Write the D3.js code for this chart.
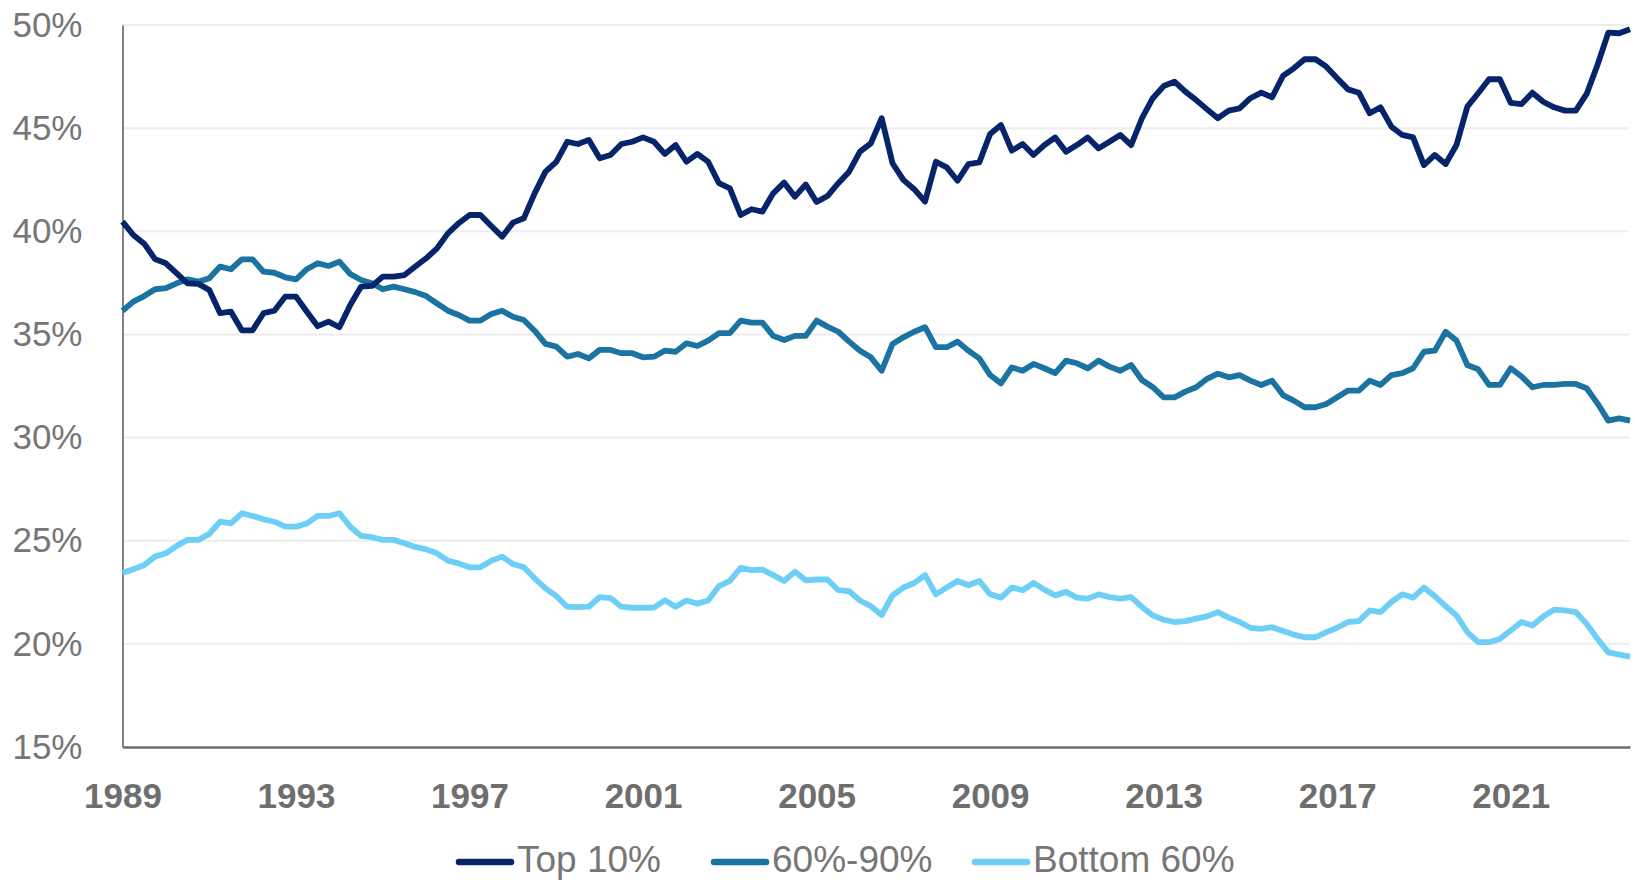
<!DOCTYPE html>
<html>
<head>
<meta charset="utf-8">
<script src="https://cdn.jsdelivr.net/npm/d3@7"></script>
<style>
    html, body { margin: 0; padding: 0; background: #fff; }
    svg text { font-family: "Liberation Sans", Arial, sans-serif; }
</style>
</head>
<body>
<div id="vis"></div>
<script>
// quarterly wealth shares, 1989 Q3 onward
const top10 = [
    40.47, 39.82, 39.4, 38.65, 38.45, 37.96, 37.48, 37.45, 37.15, 36.03,
    36.1, 35.2, 35.2, 36.03, 36.15, 36.83, 36.83, 36.1, 35.4, 35.62,
    35.35, 36.43, 37.32, 37.35, 37.8, 37.8, 37.88, 38.29, 38.69, 39.17,
    39.9, 40.39, 40.79, 40.79, 40.26, 39.74, 40.42, 40.63, 41.84, 42.89,
    43.37, 44.34, 44.23, 44.43, 43.54, 43.7, 44.23, 44.34, 44.55, 44.34,
    43.75, 44.18, 43.37, 43.75, 43.37, 42.33, 42.08, 40.79, 41.07, 40.95,
    41.84, 42.36, 41.68, 42.27, 41.42, 41.71, 42.33, 42.89, 43.86, 44.26,
    45.48, 43.3, 42.49, 42.04, 41.44, 43.37, 43.1, 42.45, 43.26, 43.34,
    44.72, 45.15, 43.91, 44.23, 43.7, 44.18, 44.55, 43.86, 44.18, 44.55,
    44.02, 44.34, 44.67, 44.18, 45.48, 46.45, 47.04, 47.25, 46.77, 46.36,
    45.91, 45.48, 45.85, 45.96, 46.45, 46.72, 46.5, 47.53, 47.9, 48.34,
    48.34, 47.98, 47.42, 46.88, 46.72, 45.72, 46.01, 45.07, 44.67, 44.55,
    43.21, 43.7, 43.26, 44.18, 46.04, 46.69, 47.37, 47.37, 46.23, 46.17,
    46.72, 46.28, 46.01, 45.85, 45.85, 46.66, 48.06, 49.63, 49.6, 49.79
];
const mid60to90 = [
    36.15, 36.59, 36.86, 37.19, 37.24, 37.48, 37.67, 37.56, 37.72, 38.29,
    38.16, 38.64, 38.64, 38.04, 37.99, 37.77, 37.67, 38.16, 38.45, 38.32,
    38.53, 37.93, 37.64, 37.48, 37.19, 37.32, 37.19, 37.05, 36.86, 36.5,
    36.15, 35.94, 35.67, 35.67, 35.99, 36.15, 35.86, 35.7, 35.18, 34.54,
    34.41, 33.92, 34.05, 33.84, 34.25, 34.25, 34.09, 34.09, 33.89, 33.92,
    34.21, 34.16, 34.57, 34.44, 34.7, 35.06, 35.06, 35.67, 35.57, 35.57,
    34.93, 34.73, 34.93, 34.93, 35.67, 35.38, 35.13, 34.65, 34.21, 33.89,
    33.24, 34.54, 34.86, 35.13, 35.35, 34.38, 34.38, 34.65, 34.21, 33.84,
    33.03, 32.63, 33.4, 33.24, 33.57, 33.36, 33.12, 33.73, 33.6, 33.36,
    33.73, 33.44, 33.24, 33.52, 32.79, 32.44, 31.95, 31.95, 32.23, 32.44,
    32.85, 33.1, 32.92, 33.03, 32.76, 32.55, 32.76, 32.06, 31.79, 31.47,
    31.47, 31.63, 31.95, 32.28, 32.28, 32.76, 32.55, 33.03, 33.12, 33.36,
    34.16, 34.21, 35.13, 34.7, 33.52, 33.31, 32.55, 32.55, 33.36, 32.96,
    32.44, 32.55, 32.55, 32.6, 32.6, 32.39, 31.66, 30.82, 30.93, 30.82
];
const bottom60 = [
    23.45, 23.61, 23.82, 24.23, 24.39, 24.75, 25.04, 25.04, 25.33, 25.92,
    25.84, 26.33, 26.2, 26.04, 25.92, 25.68, 25.68, 25.84, 26.2, 26.2,
    26.33, 25.68, 25.23, 25.17, 25.04, 25.04, 24.88, 24.7, 24.58, 24.39,
    24.03, 23.9, 23.71, 23.71, 24.03, 24.23, 23.87, 23.71, 23.18, 22.69,
    22.32, 21.8, 21.78, 21.8, 22.27, 22.22, 21.8, 21.75, 21.75, 21.76,
    22.11, 21.8, 22.1, 21.95, 22.1, 22.8, 23.05, 23.68, 23.57, 23.6,
    23.33, 23.05, 23.5, 23.08, 23.12, 23.12, 22.6, 22.55, 22.1, 21.82,
    21.4, 22.35, 22.73, 22.95, 23.33, 22.4, 22.73, 23.05, 22.84, 23.05,
    22.4, 22.24, 22.73, 22.6, 22.95, 22.63, 22.35, 22.52, 22.24, 22.19,
    22.4, 22.27, 22.19, 22.27, 21.79, 21.38, 21.17, 21.06, 21.1, 21.22,
    21.33, 21.54, 21.27, 21.06, 20.78, 20.73, 20.81, 20.62, 20.45, 20.32,
    20.32, 20.57, 20.78, 21.06, 21.1, 21.62, 21.54, 22.03, 22.4, 22.24,
    22.73, 22.31, 21.82, 21.38, 20.57, 20.08, 20.08, 20.24, 20.65, 21.06,
    20.89, 21.33, 21.66, 21.62, 21.54, 20.97, 20.24, 19.59, 19.48, 19.38
];
const yearTicks = [1989, 1993, 1997, 2001, 2005, 2009, 2013, 2017, 2021];
const yTicks = [15, 20, 25, 30, 35, 40, 45, 50];
const seriesNames = ["Top 10%", "60%-90%", "Bottom 60%"];
const seriesColors = ["#06246a", "#1a73a1", "#6dcff6"];

(function () {
    const W = 1635, H = 880;
    const left = 122.5, right = 1630, top = 25, bottom = 747;

    const svg = d3.select("#vis").append("svg")
        .attr("width", W)
        .attr("height", H);

    const x = d3.scaleLinear().domain([0, top10.length - 1]).range([left, right]);
    const y = d3.scaleLinear().domain([15, 50]).range([bottom, top]);

    // gridlines
    svg.append("g")
        .selectAll("line")
        .data(yTicks.filter(d => d > 15))
        .enter().append("line")
        .attr("x1", left).attr("x2", right - 1)
        .attr("y1", d => y(d)).attr("y2", d => y(d))
        .attr("stroke", "#ececec")
        .attr("stroke-width", 2);

    // y axis
    const yAxis = d3.axisLeft(y).tickValues(yTicks).tickSize(0).tickPadding(40).tickFormat(d => d + "%");
    const gy = svg.append("g").attr("transform", `translate(${left},0)`).call(yAxis);
    gy.select(".domain").attr("stroke", "#7f7f7f").attr("stroke-width", 2);
    gy.selectAll("text")
        .attr("fill", "#767676")
        .style("font-size", "35px");

    // x axis (ticks every 4 years, quarterly index)
    const yearIndex = d => (d - 1989) * 4;
    const xAxis = d3.axisBottom(x).tickValues(yearTicks.map(yearIndex)).tickSize(0).tickPadding(36)
        .tickFormat((d, i) => yearTicks[i]);
    const gx = svg.append("g").attr("transform", `translate(0,${bottom})`).call(xAxis);
    gx.select(".domain").attr("stroke", "#6e6e6e").attr("stroke-width", 2.5);
    gx.selectAll("text")
        .attr("fill", "#6e6e6e")
        .style("font-size", "35px")
        .style("font-weight", "bold");

    const line = d3.line()
        .x((d, i) => x(i))
        .y(d => y(d));

    const allSeries = [top10, mid60to90, bottom60];
    allSeries.slice().reverse().forEach((values, k) => {
        const idx = allSeries.length - 1 - k;
        svg.append("path")
            .datum(values)
            .attr("fill", "none")
            .attr("stroke", seriesColors[idx])
            .attr("stroke-width", 5.8)
            .attr("stroke-linejoin", "round")
            .attr("d", line);
    });

    // legend
    const legendX = [459, 714, 975];
    const legendY = 862;
    const legend = svg.append("g");
    seriesNames.forEach((name, i) => {
        legend.append("line")
            .attr("x1", legendX[i]).attr("x2", legendX[i] + 52)
            .attr("y1", legendY).attr("y2", legendY)
            .attr("stroke", seriesColors[i])
            .attr("stroke-width", 6.5)
            .attr("stroke-linecap", "round");
        legend.append("text")
            .attr("x", legendX[i] + 58)
            .attr("y", 872)
            .attr("fill", "#767676")
            .style("font-size", "37px")
            .text(name);
    });
})();
</script>
</body>
</html>
